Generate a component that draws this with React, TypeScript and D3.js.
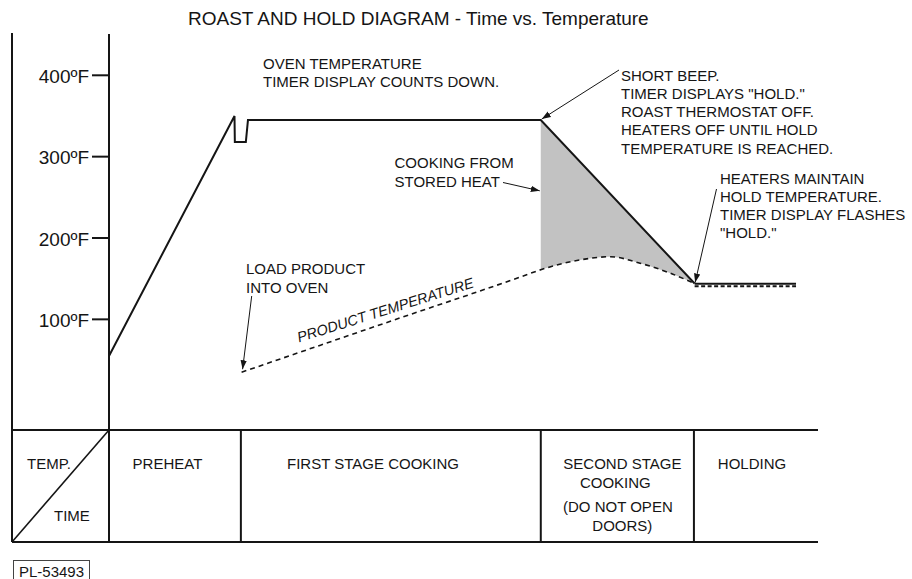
import React from "react";
import * as d3 from "d3";

// temperature axis
const tempTicks = [100, 200, 300, 400];

// time is in arbitrary units (0..100) across the plot
const phaseBounds = [0, 18.6, 60.9, 82.5, 100];
const phaseLabels = [
  ["PREHEAT"],
  ["FIRST STAGE COOKING"],
  ["SECOND STAGE", "COOKING", "(DO NOT OPEN", "DOORS)"],
  ["HOLDING"],
];

// oven temperature curve
const ovenTime = [0, 17.7, 17.75, 19.3, 19.6, 60.9, 82.6];
const ovenTemp = [55, 350, 318, 318, 345, 345, 144];

// hold segment
const holdTime = [82.6, 96.9];
const holdTemp = [143, 143];

// product temperature curve
const productTime = [18.7, 39.8, 58.0, 60.9, 66.4, 70.7, 74.9, 79.1, 82.6];
const productTemp = [35, 98, 152, 161, 173, 177, 169, 157, 144];

const ovenNote = ["OVEN TEMPERATURE", "TIMER DISPLAY COUNTS DOWN."];
const beepNote = [
  "SHORT BEEP.",
  'TIMER DISPLAYS "HOLD."',
  "ROAST THERMOSTAT OFF.",
  "HEATERS OFF UNTIL HOLD",
  "TEMPERATURE IS REACHED.",
];
const holdNote = ["HEATERS MAINTAIN", "HOLD TEMPERATURE.", "TIMER DISPLAY FLASHES", '"HOLD."'];
const storedNote = ["COOKING FROM", "STORED HEAT"];
const loadNote = ["LOAD PRODUCT", "INTO OVEN"];

const FONT = "'Liberation Sans', Arial, Helvetica, sans-serif";
const INK = "#151515";

const W = 912;
const H = 579;

const x = d3.scaleLinear().domain([0, 100]).range([109, 818]);
const y = d3.scaleLinear().domain([0, 400]).range([400.7, 75.3]);

const frameLeft = 12;
const tableTop = 430;
const tableBottom = 542;

type P = [number, number];
const zipPts = (t: number[], v: number[]): P[] => t.map((d, i) => [d, v[i]]);

function Lines({ lines, x0, y0, step, size = 15, anchor = "start" }: any) {
  return (
    <text x={x0} y={y0} fontSize={size} fill={INK} textAnchor={anchor} fontFamily={FONT}>
      {lines.map((l: string, i: number) => (
        <tspan key={i} x={x0} y={y0 + i * step}>
          {l}
        </tspan>
      ))}
    </text>
  );
}

export default function App() {
  const line = d3
    .line<P>()
    .x((d) => x(d[0]))
    .y((d) => y(d[1]));

  const ovenPts = zipPts(ovenTime, ovenTemp);
  const productPts = zipPts(productTime, productTemp);
  const holdPts = zipPts(holdTime, holdTemp);

  const productPath = line.curve(d3.curveMonotoneX)(productPts) || "";
  const ovenPath = d3
    .line<P>()
    .x((d) => x(d[0]))
    .y((d) => y(d[1]))(ovenPts) || "";

  // stored-heat fill: above the product curve, below the oven line, second stage only
  const aboveProduct = d3
    .area<P>()
    .x((d) => x(d[0]))
    .y0((d) => y(d[1]))
    .y1(y(400) - 40)
    .curve(d3.curveMonotoneX)(productPts) || "";
  const coolStart = ovenPts[5];
  const coolEnd = ovenPts[6];
  const clipPoly = [
    [x(coolStart[0]), y(coolStart[1])],
    [x(coolEnd[0]), y(coolEnd[1])],
    [x(coolEnd[0]), y(0)],
    [x(coolStart[0]), y(0)],
  ]
    .map((p) => p.join(","))
    .join(" ");

  const holdY = y(holdTemp[0]);

  // arrow targets from the data
  const beepTarget: P = [x(coolStart[0]) + 1, y(coolStart[1]) - 1];
  const holdTarget: P = [x(coolEnd[0]) + 0.5, y(coolEnd[1]) - 1];
  const loadTarget: P = [x(productTime[0]) + 1, y(productTemp[0]) - 3];
  const storedTarget: P = [x(coolStart[0]) - 1, y(258)];

  const arrows: [P, P][] = [
    [[619, 70], beepTarget],
    [[503, 182.5], storedTarget],
    [[716.5, 189], holdTarget],
    [[251.7, 296], loadTarget],
  ];

  const cellCenters = phaseBounds.slice(0, -1).map((b, i) => (x(b) + x(phaseBounds[i + 1])) / 2);

  return (
    <svg
      width={W}
      height={H}
      style={{ position: "absolute", left: 0, top: 0, display: "block", background: "#fff" }}
    >
      <defs>
        <marker
          id="arrow"
          viewBox="0 0 10 10"
          refX="10"
          refY="5"
          markerWidth="9"
          markerHeight="9"
          markerUnits="userSpaceOnUse"
          orient="auto"
        >
          <path d="M0,1.5 L10,5 L0,8.5 Z" fill={INK} />
        </marker>
        <clipPath id="cool-clip">
          <polygon points={clipPoly} />
        </clipPath>
      </defs>

      {/* title */}
      <text x={188} y={25} fontSize={19} fill={INK} fontFamily={FONT}>
        ROAST AND HOLD DIAGRAM - Time vs. Temperature
      </text>

      {/* stored heat fill */}
      <path d={aboveProduct} fill="#c2c2c2" clipPath="url(#cool-clip)" />

      {/* frame and axis */}
      <g stroke={INK} strokeWidth={2} fill="none">
        <line x1={frameLeft} x2={frameLeft} y1={33} y2={tableBottom} />
        <line x1={x(0)} x2={x(0)} y1={34} y2={tableBottom} />
        <line x1={frameLeft} x2={x(100)} y1={tableTop} y2={tableTop} />
        <line x1={frameLeft} x2={x(100)} y1={tableBottom} y2={tableBottom} />
        <line x1={frameLeft} x2={x(0)} y1={tableBottom} y2={tableTop} strokeWidth={1.6} />
        {phaseBounds.slice(1, -1).map((b) => (
          <line key={b} x1={x(b)} x2={x(b)} y1={tableTop} y2={tableBottom} />
        ))}
        {tempTicks.map((t) => (
          <line key={t} x1={92} x2={x(0)} y1={y(t)} y2={y(t)} />
        ))}
      </g>

      {/* tick labels */}
      {tempTicks.map((t) => (
        <text
          key={t}
          x={89}
          y={y(t) + 7.5}
          fontSize={19}
          fill={INK}
          textAnchor="end"
          fontFamily={FONT}
        >
          {`${t}ºF`}
        </text>
      ))}

      {/* product temperature */}
      <path d={productPath} fill="none" stroke={INK} strokeWidth={1.6} strokeDasharray="5,4" />

      {/* oven temperature */}
      <path d={ovenPath} fill="none" stroke={INK} strokeWidth={2} strokeLinejoin="miter" />

      {/* hold line */}
      <path
        d={line.curve(d3.curveLinear)(holdPts) || ""}
        fill="none"
        stroke={INK}
        strokeWidth={2}
        transform="translate(0,-0.5)"
      />
      <line
        x1={x(holdTime[0])}
        x2={x(holdTime[1])}
        y1={holdY + 1.8}
        y2={holdY + 1.8}
        stroke={INK}
        strokeWidth={2}
        strokeDasharray="4,2.5"
      />

      {/* arrows */}
      {arrows.map(([a, b], i) => (
        <line
          key={i}
          x1={a[0]}
          y1={a[1]}
          x2={b[0]}
          y2={b[1]}
          stroke={INK}
          strokeWidth={1}
          markerEnd="url(#arrow)"
        />
      ))}

      {/* annotations */}
      <Lines lines={ovenNote} x0={263} y0={68.5} step={18.3} />
      <Lines lines={beepNote} x0={621} y0={80.5} step={18.3} />
      <Lines lines={holdNote} x0={720} y0={184} step={18.1} />
      <Lines lines={storedNote} x0={394.5} y0={168} step={18.7} />
      <Lines lines={loadNote} x0={246} y0={274} step={19} />

      <text
        transform={`translate(299,342.5) rotate(-17.5)`}
        fontSize={14.5}
        fontStyle="italic"
        fill={INK}
        fontFamily={FONT}
      >
        PRODUCT TEMPERATURE
      </text>

      {/* table */}
      <text x={27} y={469} fontSize={15} fill={INK} fontFamily={FONT}>
        TEMP.
      </text>
      <text x={54} y={521} fontSize={15} fill={INK} fontFamily={FONT}>
        TIME
      </text>
      <text x={cellCenters[0] - 7.5} y={469} fontSize={15} fill={INK} fontFamily={FONT} textAnchor="middle">
        {phaseLabels[0][0]}
      </text>
      <text x={287} y={469} fontSize={15} fill={INK} fontFamily={FONT}>
        {phaseLabels[1][0]}
      </text>
      {phaseLabels[2].map((l, i) => (
        <text
          key={l}
          x={cellCenters[2] + [5, -2, 0.5, 5][i]}
          y={[469, 487.7, 512, 531][i]}
          fontSize={15}
          fill={INK}
          fontFamily={FONT}
          textAnchor="middle"
        >
          {l}
        </text>
      ))}
      <text x={752} y={469} fontSize={15} fill={INK} fontFamily={FONT} textAnchor="middle">
        {phaseLabels[3][0]}
      </text>

      {/* drawing number */}
      <rect x={13.5} y={560.5} width={76} height={24} fill="none" stroke="#444" strokeWidth={1} />
      <text x={19} y={576.5} fontSize={15} fill={INK} fontFamily={FONT}>
        PL-53493
      </text>
    </svg>
  );
}
